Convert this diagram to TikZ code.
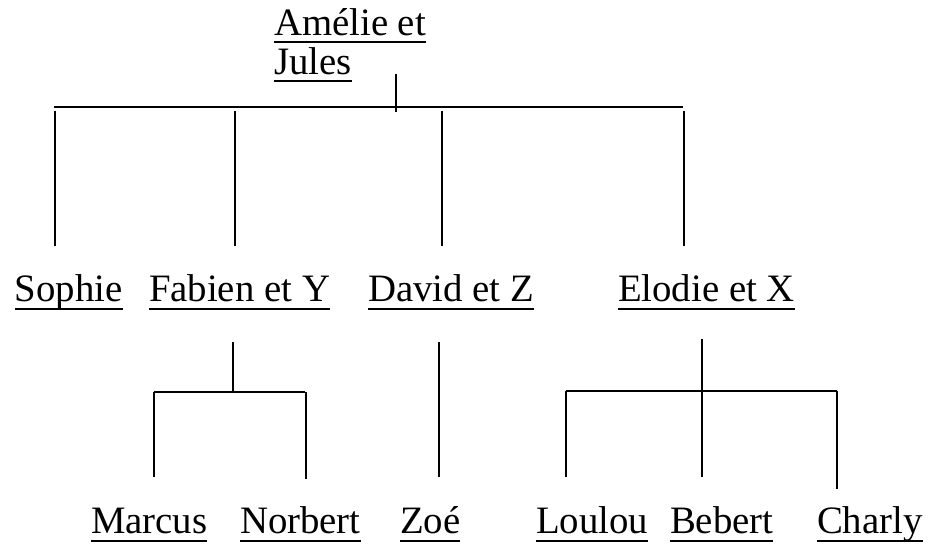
\documentclass[tikz,border=0pt]{standalone}
\usepackage{fontspec}
\setmainfont{Liberation Serif}
\newcommand\ulx[1]{\sbox0{#1}\rlap{\rule[-8pt]{\wd0}{2pt}}\usebox0}
\begin{document}
\begin{tikzpicture}[x=1pt,y=-1pt,
  lbl/.style={anchor=base west,inner sep=0pt,outer sep=0pt,font=\fontsize{38.8}{40}\selectfont},
  conn/.style={line width=2pt}]
\useasboundingbox (0,0) rectangle (930,549);
% labels
\node[lbl] (amelie) at (274,35) {\ulx{Amélie et}};
\node[lbl] (jules) at (274,74) {\ulx{Jules}};
\node[lbl] (sophie) at (15,301.7) {\ulx{Sophie}};
\node[lbl] (fabien) at (149,301.7) {\ulx{Fabien et Y}};
\node[lbl] (david) at (368,301.7) {\ulx{David et Z}};
\node[lbl] (elodie) at (618,301.7) {\ulx{Elodie et X}};
\node[lbl] (marcus) at (91,533.5) {\ulx{Marcus}};
\node[lbl] (norbert) at (240,533.5) {\ulx{Norbert}};
\node[lbl] (zoe) at (400,533.5) {\ulx{Zoé}};
\node[lbl] (loulou) at (536,533.5) {\ulx{Loulou}};
\node[lbl] (bebert) at (670,533.5) {\ulx{Bebert}};
\node[lbl] (charly) at (817,533.5) {\ulx{Charly}};
% coordinates
\coordinate (t1) at (396,74); \coordinate (t2) at (396,112);
\coordinate (hl) at (54,107); \coordinate (hr) at (683,107);
\coordinate (s1) at (55,111); \coordinate (s2) at (55,246);
\coordinate (f1) at (235,111); \coordinate (f2) at (235,246);
\coordinate (d1) at (442,111); \coordinate (d2) at (442,246);
\coordinate (e1) at (684,111); \coordinate (e2) at (684,246);
\coordinate (fa) at (233,342); \coordinate (fb) at (233,392);
\coordinate (fl) at (154,392); \coordinate (fr) at (305,392);
\coordinate (ml) at (154,477); \coordinate (nr1) at (306,392); \coordinate (nr2) at (306,479);
\coordinate (za) at (439,342); \coordinate (zb) at (439,477);
\coordinate (ea) at (702,339); \coordinate (eb) at (702,477);
\coordinate (el) at (566,391); \coordinate (er) at (837,391);
\coordinate (lb) at (566,477); \coordinate (cb) at (837,489);
% connectors
\draw[conn] (t1) -- (t2);
\draw[conn] (hl) -- (hr);
\draw[conn] (s1) -- (s2);
\draw[conn] (f1) -- (f2);
\draw[conn] (d1) -- (d2);
\draw[conn] (e1) -- (e2);
\draw[conn] (fa) -- (fb);
\draw[conn] (fl) -- (fr);
\draw[conn] (fl) -- (ml);
\draw[conn] (nr1) -- (nr2);
\draw[conn] (za) -- (zb);
\draw[conn] (ea) -- (eb);
\draw[conn] (el) -- (er);
\draw[conn] (el) -- (lb);
\draw[conn] (er) -- (cb);
\end{tikzpicture}
\end{document}
